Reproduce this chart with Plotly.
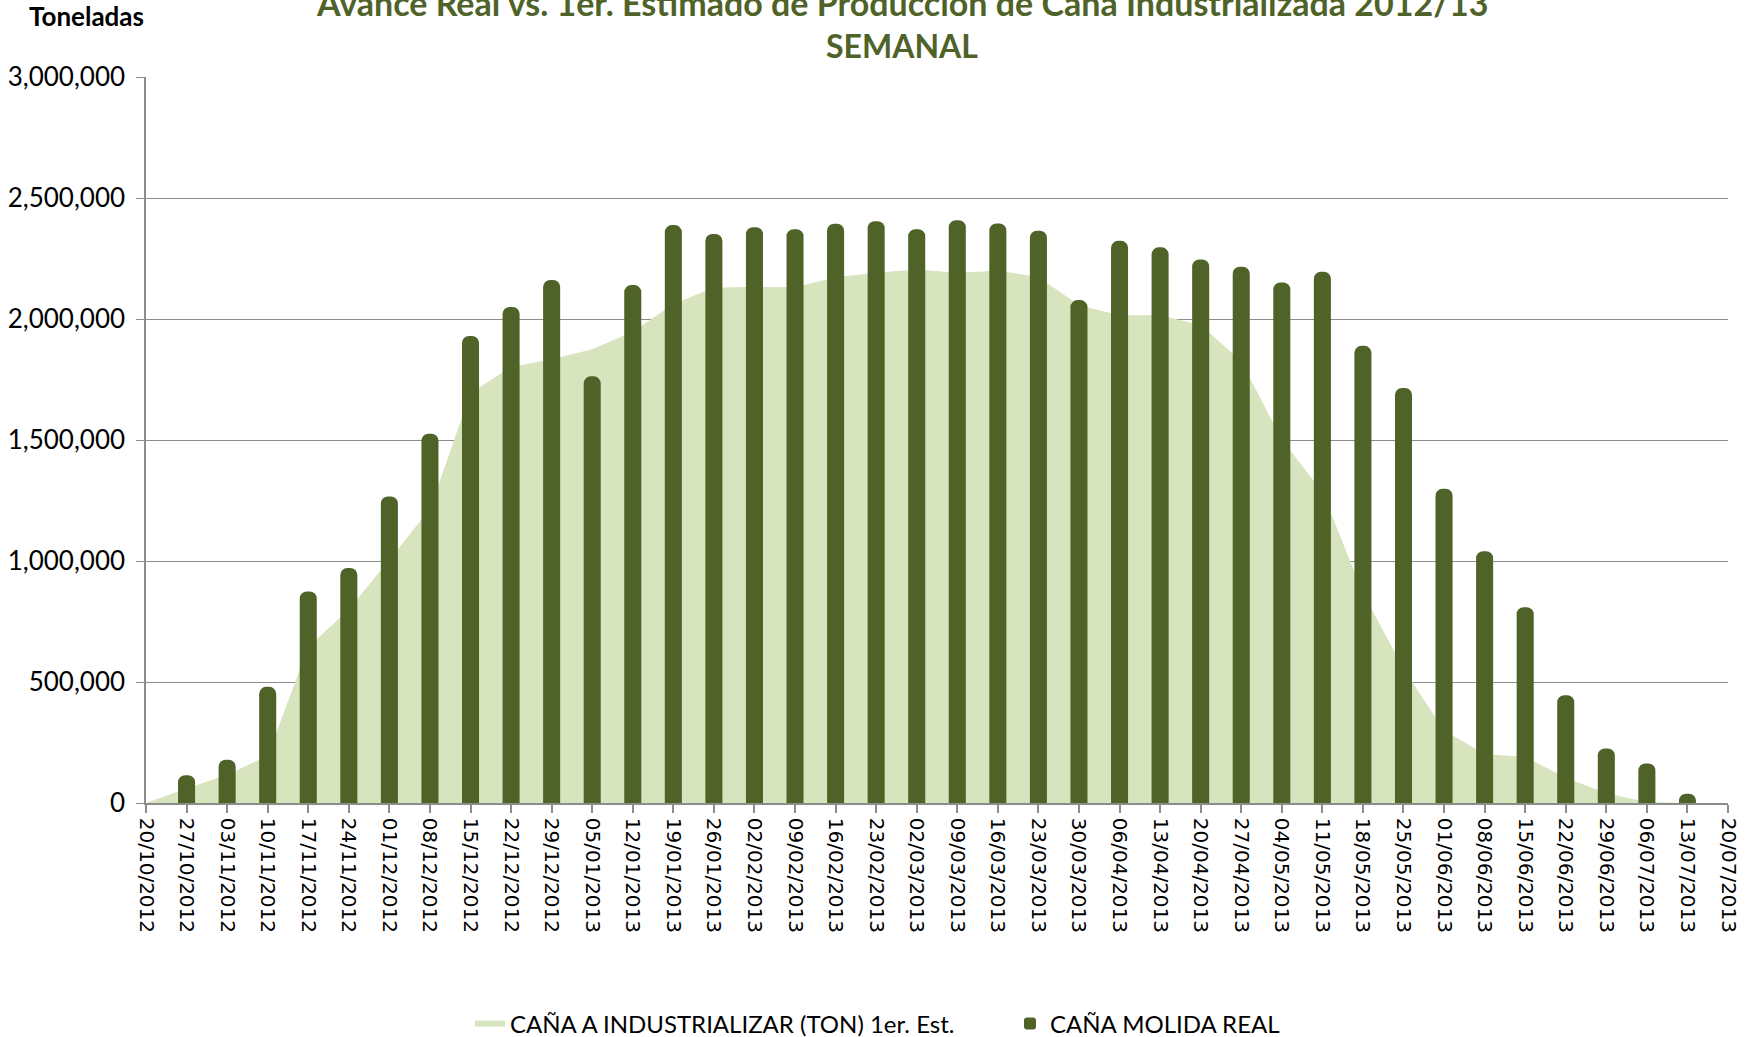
import plotly.graph_objects as go

# ---------------- data ----------------
dates = [
    "20/10/2012", "27/10/2012", "03/11/2012", "10/11/2012", "17/11/2012", "24/11/2012",
    "01/12/2012", "08/12/2012", "15/12/2012", "22/12/2012", "29/12/2012", "05/01/2013",
    "12/01/2013", "19/01/2013", "26/01/2013", "02/02/2013", "09/02/2013", "16/02/2013",
    "23/02/2013", "02/03/2013", "09/03/2013", "16/03/2013", "23/03/2013", "30/03/2013",
    "06/04/2013", "13/04/2013", "20/04/2013", "27/04/2013", "04/05/2013", "11/05/2013",
    "18/05/2013", "25/05/2013", "01/06/2013", "08/06/2013", "15/06/2013", "22/06/2013",
    "29/06/2013", "06/07/2013", "13/07/2013", "20/07/2013",
]

# CAÑA A INDUSTRIALIZAR (TON) 1er. Est. (area)
estimado = [
    0, 60000, 117000, 195000, 645000, 800000,
    1005000, 1215000, 1693000, 1802000, 1834000, 1875000,
    1947000, 2062000, 2129000, 2133000, 2131000, 2173000,
    2191000, 2205000, 2191000, 2199000, 2174000, 2057000,
    2016000, 2016000, 1975000, 1825000, 1502000, 1285000,
    869000, 555000, 300000, 202000, 190000, 104000,
    40000, 4000, 0, 0,
]

# CAÑA MOLIDA REAL (bars)
real = [
    None, 115000, 179000, 480000, 874000, 971000,
    1267000, 1526000, 1930000, 2050000, 2161000, 1763000,
    2140000, 2388000, 2351000, 2379000, 2371000, 2394000,
    2404000, 2371000, 2408000, 2395000, 2365000, 2078000,
    2323000, 2296000, 2246000, 2216000, 2151000, 2195000,
    1889000, 1715000, 1299000, 1040000, 809000, 445000,
    225000, 163000, 38000, None,
]

y_ticks = [0, 500000, 1000000, 1500000, 2000000, 2500000, 3000000]

title_line1 = "Avance Real vs. 1er. Estimado de Producción de Caña Industrializada 2012/13"
title_line2 = "SEMANAL"
y_title = "Toneladas"
name_est = "CAÑA A INDUSTRIALIZAR (TON) 1er. Est."
name_real = "CAÑA MOLIDA REAL"

# ---------------- styling ----------------
W, H = 1753, 1037
L, R, T, B = 146, 1728, 77, 803
DARK = "#4F6228"
LIGHT = "#D7E4BD"
GRID = "#8c8c8c"


def px_x(px):
    return (px - L) / (R - L)


def px_y(py):
    return (B - py) / (B - T)


fig = go.Figure()

fig.add_trace(go.Scatter(
    x=dates, y=estimado, name=name_est,
    mode="none", fill="tozeroy", fillcolor=LIGHT,
    xaxis="x", yaxis="y",
))

fig.add_trace(go.Bar(
    x=dates, y=real, name=name_real,
    marker=dict(color=DARK, cornerradius=7, line=dict(width=0)),
    xaxis="x", yaxis="y2",
))

fig.update_layout(
    width=W, height=H,
    margin=dict(l=L, r=W - R, t=T, b=H - B, pad=0, autoexpand=False),
    paper_bgcolor="white", plot_bgcolor="white",
    bargap=0.58,
    font=dict(family="Lato", size=24, color="black"),
    showlegend=True,
    legend=dict(
        orientation="h", x=470 / W, xanchor="left",
        xref="container", yref="container",
        y=(H - 1024) / H, yanchor="middle",
        font=dict(family="Lato", size=24, color="black"),
        entrywidth=495, entrywidthmode="pixels",
        bgcolor="rgba(0,0,0,0)", traceorder="normal",
    ),
    xaxis=dict(
        type="category", categoryorder="array", categoryarray=dates,
        range=[0, len(dates) - 1], automargin=False,
        showgrid=False, zeroline=False,
        showline=True, linecolor=GRID, linewidth=1.5,
        ticks="outside", ticklen=8, tickcolor=GRID, tickwidth=1.5,
        tickangle=90, ticklabelstandoff=1,
        tickfont=dict(family="DejaVu Sans", size=20, color="black"),
    ),
    yaxis=dict(
        range=[0, 3000000], tickvals=y_ticks, tickformat=",", automargin=False,
        showgrid=True, gridcolor=GRID, gridwidth=1.3,
        zeroline=False,
        showline=True, linecolor=GRID, linewidth=1.5,
        ticks="outside", ticklen=8, tickcolor=GRID, tickwidth=1.3,
        ticklabelstandoff=6,
        tickfont=dict(family="Lato", size=26, color="black"),
    ),
    yaxis2=dict(
        overlaying="y", matches="y", range=[0, 3000000],
        visible=False, showgrid=False, automargin=False,
    ),
    annotations=[
        dict(text=title_line1, x=px_x(902), y=px_y(2), xref="paper", yref="paper",
             xanchor="center", yanchor="middle", showarrow=False,
             font=dict(family="Lato", size=34, color=DARK, weight="bold")),
        dict(text=title_line2, x=px_x(902), y=px_y(45), xref="paper", yref="paper",
             xanchor="center", yanchor="middle", showarrow=False,
             font=dict(family="Lato", size=32, color=DARK, weight="bold")),
        dict(text=y_title, x=px_x(27), y=px_y(16), xref="paper", yref="paper",
             xanchor="left", yanchor="middle", showarrow=False,
             font=dict(family="Lato", size=26, color="black", weight="bold")),
    ],
)

fig.write_html(
    "out.html",
    config={"displayModeBar": False},
    post_script="document.body.style.margin='0';document.body.style.overflow='hidden';",
)
